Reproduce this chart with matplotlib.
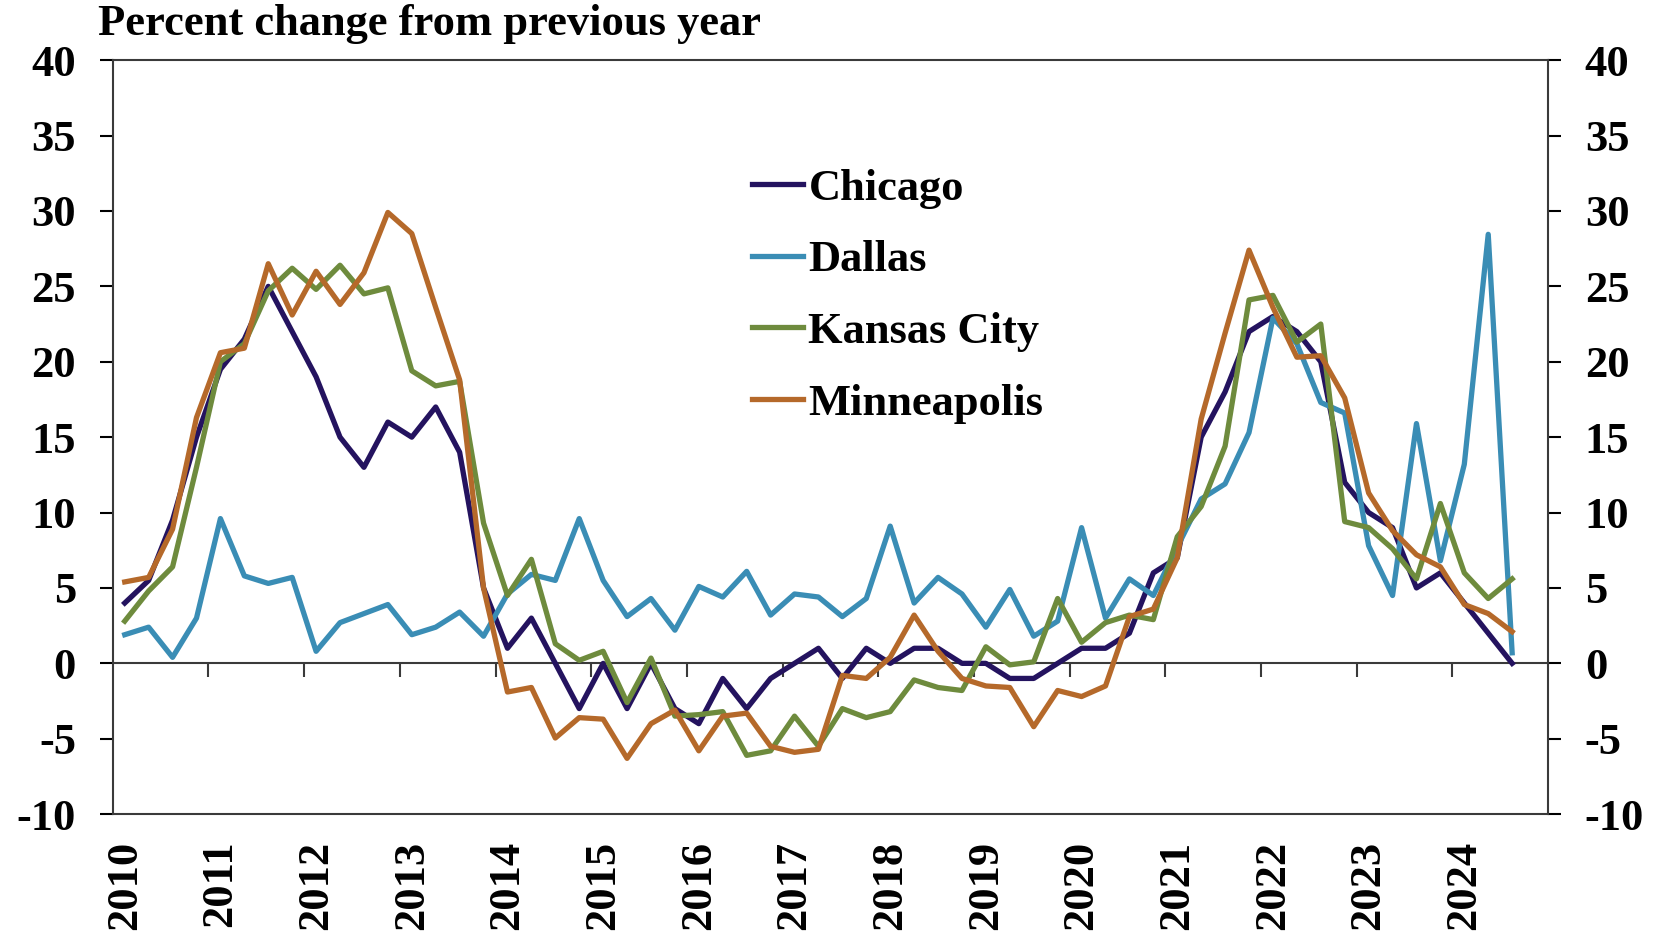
import matplotlib.pyplot as plt
import numpy as np

plt.rcParams['font.family'] = ['Liberation Serif', 'DejaVu Serif']
plt.rcParams['font.weight'] = 'bold'
plt.rcParams['axes.unicode_minus'] = False

# quarterly, 2010Q1 .. 2024Q3
years = list(range(2010, 2025))

chicago = [4, 5.5, 9.5, 15, 19.5, 21.5, 25, 22, 19, 15, 13, 16, 15, 17, 14,
           5, 1, 3, 0, -3, 0, -3, 0, -3, -4, -1, -3, -1, 0, 1,
           -1, 1, 0, 1, 1, 0, 0, -1, -1, 0, 1, 1, 2, 6, 7,
           15, 18, 22, 23, 22, 20, 12, 10, 9, 5, 6, 4, 2, 0]
dallas = [1.9, 2.4, 0.4, 3.0, 9.6, 5.8, 5.3, 5.7, 0.8, 2.7, 3.3, 3.9, 1.9, 2.4, 3.4,
          1.8, 4.6, 5.9, 5.5, 9.6, 5.5, 3.1, 4.3, 2.2, 5.1, 4.4, 6.1, 3.2, 4.6, 4.4,
          3.1, 4.3, 9.1, 4.0, 5.7, 4.6, 2.4, 4.9, 1.8, 2.8, 9.0, 3.0, 5.6, 4.5, 7.7,
          10.9, 11.9, 15.3, 22.9, 21.2, 17.3, 16.6, 7.8, 4.5, 15.9, 6.8, 13.2, 28.45, 0.7]
kansas_city = [2.8, 4.8, 6.4, 13, 20, 21.2, 24.7, 26.2, 24.8, 26.4, 24.5, 24.9, 19.4, 18.4, 18.7,
               9.3, 4.5, 6.9, 1.3, 0.2, 0.8, -2.6, 0.35, -3.5, -3.4, -3.2, -6.1, -5.8, -3.5, -5.5,
               -3.0, -3.6, -3.2, -1.1, -1.6, -1.8, 1.1, -0.1, 0.1, 4.3, 1.4, 2.7, 3.2, 2.9, 8.4,
               10.4, 14.4, 24.1, 24.4, 21.3, 22.5, 9.4, 9.0, 7.6, 5.6, 10.6, 6.0, 4.3, 5.6]
minneapolis = [5.4, 5.7, 8.9, 16.3, 20.6, 20.9, 26.5, 23.1, 26.0, 23.8, 25.9, 29.9, 28.5, 23.6, 18.8,
               5.0, -1.9, -1.6, -4.95, -3.6, -3.7, -6.3, -4.0, -3.1, -5.8, -3.5, -3.3, -5.5, -5.9, -5.7,
               -0.8, -1.0, 0.4, 3.2, 0.8, -1.0, -1.5, -1.6, -4.2, -1.8, -2.2, -1.5, 3.1, 3.6, 7.0,
               16.2, 21.9, 27.4, 23.6, 20.3, 20.4, 17.6, 11.3, 8.8, 7.2, 6.4, 3.9, 3.3, 2.1]

names = ['Chicago', 'Dallas', 'Kansas City', 'Minneapolis']
colors = ['#24135F', '#3A8DB5', '#6E8B3D', '#B5692A']

fig = plt.figure(figsize=(16.56, 9.31), dpi=100)
ax = fig.add_axes([0.0681, 0.1255, 0.8667, 0.8099])

x = np.arange(len(chicago))
for vals, name, col in zip([chicago, dallas, kansas_city, minneapolis], names, colors):
    ax.plot(x, vals, color=col, lw=3.8, label=name, solid_joinstyle='round')

ax.set_xlim(-0.5, 59.5)
ax.set_ylim(-10, 40)
ax.set_yticks(range(-10, 41, 5))
ax.tick_params(axis='y', direction='out', length=9.5, width=1.5, left=True, right=True,
               labelleft=True, labelright=True, labelsize=32, pad=17)

ax.set_xticks(np.arange(0, 60, 4))
ax.set_xticklabels([str(y) for y in years], rotation=90, fontsize=32)
ax.tick_params(axis='x', length=0, pad=19)

for s in ax.spines.values():
    s.set_linewidth(1.5)
    s.set_color('#3a3a3a')

# zero line with year separators
sec = ax.secondary_xaxis(0.2)
sec.set_xticks(np.arange(3.5, 59, 4))
sec.tick_params(direction='out', length=10, width=1.5, color='#3a3a3a', labelbottom=False)
sec.spines['bottom'].set_linewidth(1.5)
sec.spines['bottom'].set_color('#3a3a3a')

fig.text(0.0592, 0.996, 'Percent change from previous year', fontsize=32,
         fontweight='bold', va='top', ha='left')

ax.legend(loc='center left', bbox_to_anchor=(0.4541, 0.6819), bbox_transform=fig.transFigure,
          frameon=False, fontsize=32, handlelength=1.15, handletextpad=0.12,
          labelspacing=0.71, borderpad=0, borderaxespad=0)

fig.savefig('out.png', dpi=100)
